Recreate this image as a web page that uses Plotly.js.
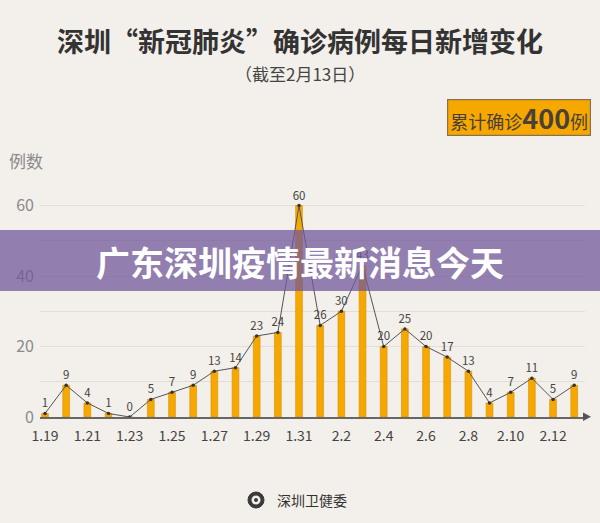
<!DOCTYPE html>
<html>
<head>
<meta charset="utf-8">
<script src="https://cdn.plot.ly/plotly-3.0.1.min.js"></script>
<style>
  html, body { margin: 0; padding: 0; background: #f3efea; }
  #chart { width: 600px; height: 523px; }
</style>
</head>
<body>
<div id="chart"></div>
<script>
// ---- data ----
const dates = ['1.19','1.20','1.21','1.22','1.23','1.24','1.25','1.26','1.27','1.28','1.29','1.30','1.31',
               '2.1','2.2','2.3','2.4','2.5','2.6','2.7','2.8','2.9','2.10','2.11','2.12','2.13'];
const newCases = [1,9,4,1,0,5,7,9,13,14,23,24,60,26,30,43,20,25,20,17,13,4,7,11,5,9];
const tickLabels = ['1.19','1.21','1.23','1.25','1.27','1.29','1.31','2.2','2.4','2.6','2.8','2.10','2.12'];
const yTicks = [0,20,40,60];
const titleText = '深圳“新冠肺炎”确诊病例每日新增变化';
const subtitleText = '（截至2月13日）';
const totalText = '累计确诊<b style="font-size:27px">400</b>例';
const bannerText = '广东深圳疫情最新消息今天';
const yTitle = '例数';
const sourceText = '深圳卫健委';

const FONT = '"Noto Sans CJK SC", "Noto Sans", sans-serif';
const BG = '#f3efea';

const traces = [
  {
    type: 'bar',
    x: dates,
    y: newCases,
    width: 0.32,
    marker: { color: '#f6a800', line: { color: '#d88f00', width: 0.6 } },
    hoverinfo: 'skip'
  },
  {
    type: 'scatter',
    mode: 'lines+markers+text',
    x: dates,
    y: newCases,
    text: newCases.map(String),
    textposition: 'top center',
    textfont: { family: FONT, size: 11.5, color: '#444' },
    line: { color: '#555', width: 1 },
    marker: { color: '#333', size: 3.5 },
    cliponaxis: false,
    hoverinfo: 'skip'
  }
];

// pixel helpers for paper coordinates
const L = 40, R = 15, T = 188, B = 106, W = 600, H = 523;
const pw = W - L - R, ph = H - T - B;
const px = v => (v - L) / pw;
const py = v => (H - B - v) / ph;

const layout = {
  width: W, height: H,
  paper_bgcolor: BG, plot_bgcolor: BG,
  margin: { l: L, r: R, t: T, b: B },
  showlegend: false,
  font: { family: FONT },
  title: {
    text: '<b>' + titleText + '</b>',
    font: { family: FONT, size: 27, color: '#333' },
    x: px(300), xref: 'paper', xanchor: 'center',
    y: 1 - 43 / H, yref: 'container', yanchor: 'middle'
  },
  xaxis: {
    type: 'category',
    range: [-0.236, 25.51],
    tickmode: 'array',
    tickvals: tickLabels,
    ticktext: tickLabels,
    tickfont: { family: FONT, size: 14, color: '#444' },
    ticks: '',
    ticklabelstandoff: 6,
    showgrid: false,
    showline: true, linecolor: '#666', linewidth: 1.5,
    zeroline: false,
    fixedrange: true
  },
  yaxis: {
    range: [0, 65],
    tickmode: 'array',
    tickvals: yTicks,
    ticktext: yTicks.map(String),
    tickfont: { family: FONT, size: 16, color: '#8a8a8a' },
    ticks: '',
    ticklabelstandoff: 5,
    showgrid: true, gridcolor: '#e2ddd6', gridwidth: 1,
    minor: { dtick: 10, tick0: 0, showgrid: true, gridcolor: '#e2ddd6', gridwidth: 1 },
    zeroline: false,
    showline: false,
    fixedrange: true
  },
  shapes: [
    {
      type: 'path', xref: 'paper', yref: 'paper', layer: 'above',
      path: 'M ' + px(583) + ' ' + py(412.5) + ' L ' + px(591) + ' ' + py(416.7) + ' L ' + px(583) + ' ' + py(421) + ' Z',
      fillcolor: '#555', line: { width: 0 }
    },
    {
      type: 'rect', xref: 'paper', yref: 'paper', layer: 'above',
      x0: px(-5), x1: px(605), y0: py(291), y1: py(230),
      fillcolor: 'rgba(112,88,154,0.74)', line: { width: 0 }
    },
    {
      type: 'circle', xref: 'paper', yref: 'paper', layer: 'above',
      x0: px(248), x1: px(264), y0: py(508), y1: py(492),
      fillcolor: '#3a3a3a', line: { color: '#3a3a3a', width: 1 }
    },
    {
      type: 'circle', xref: 'paper', yref: 'paper', layer: 'above',
      x0: px(251.5), x1: px(260.5), y0: py(504.5), y1: py(495.5),
      fillcolor: '#f3efea', line: { width: 0 }
    },
    {
      type: 'circle', xref: 'paper', yref: 'paper', layer: 'above',
      x0: px(254), x1: px(258), y0: py(502), y1: py(498),
      fillcolor: '#3a3a3a', line: { width: 0 }
    }
  ],
  annotations: [
    {
      text: subtitleText, xref: 'paper', yref: 'paper',
      x: px(300), y: py(73), xanchor: 'center', yanchor: 'middle',
      showarrow: false, font: { family: FONT, size: 17, color: '#444' }
    },
    {
      text: totalText, xref: 'paper', yref: 'paper',
      x: px(518.5), y: py(118), xanchor: 'center', yanchor: 'middle',
      showarrow: false, font: { family: FONT, size: 18, color: '#4a4035' },
      bgcolor: '#f6a800', bordercolor: '#857050', borderwidth: 1.2,
      width: 140, height: 33, align: 'center', valign: 'middle'
    },
    {
      text: yTitle, xref: 'paper', yref: 'paper',
      x: px(7), y: py(160), xanchor: 'left', yanchor: 'middle',
      showarrow: false, font: { family: FONT, size: 17, color: '#8a8a8a' }
    },
    {
      text: '<b>' + bannerText + '</b>', xref: 'paper', yref: 'paper',
      x: px(300), y: py(261), xanchor: 'center', yanchor: 'middle',
      showarrow: false, font: { family: FONT, size: 34, color: '#ffffff' }
    },
    {
      text: sourceText, xref: 'paper', yref: 'paper',
      x: px(312), y: py(500), xanchor: 'center', yanchor: 'middle',
      showarrow: false, font: { family: FONT, size: 14, color: '#333' }
    }
  ]
};

Plotly.newPlot('chart', traces, layout, { displayModeBar: false, staticPlot: true });
</script>
</body>
</html>
